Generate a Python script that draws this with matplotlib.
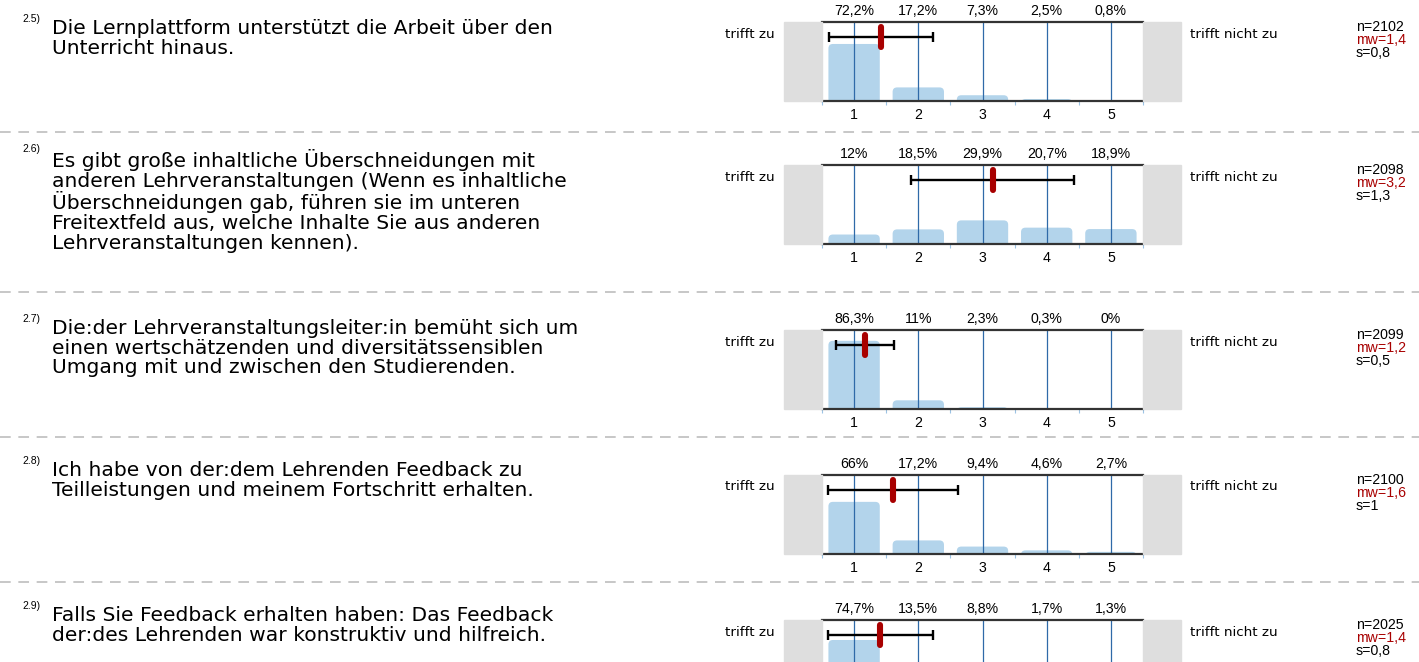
import matplotlib
matplotlib.use("Agg")
import matplotlib.pyplot as plt
from matplotlib.patches import Rectangle, FancyBboxPatch
from matplotlib.lines import Line2D

plt.rcParams['font.family'] = ['Liberation Sans', 'DejaVu Sans']

# ---------------- data ----------------
item_ids = ["2.5)", "2.6)", "2.7)", "2.8)", "2.9)"]
questions = [
    "Die Lernplattform unterstützt die Arbeit über den\nUnterricht hinaus.",
    "Es gibt große inhaltliche Überschneidungen mit\nanderen Lehrveranstaltungen (Wenn es inhaltliche\n"
    "Überschneidungen gab, führen sie im unteren\nFreitextfeld aus, welche Inhalte Sie aus anderen\n"
    "Lehrveranstaltungen kennen).",
    "Die:der Lehrveranstaltungsleiter:in bemüht sich um\neinen wertschätzenden und diversitätssensiblen\n"
    "Umgang mit und zwischen den Studierenden.",
    "Ich habe von der:dem Lehrenden Feedback zu\nTeilleistungen und meinem Fortschritt erhalten.",
    "Falls Sie Feedback erhalten haben: Das Feedback\nder:des Lehrenden war konstruktiv und hilfreich.",
]
categories = [1, 2, 3, 4, 5]
pct_25 = [72.2, 17.2, 7.3, 2.5, 0.8]
pct_26 = [12, 18.5, 29.9, 20.7, 18.9]
pct_27 = [86.3, 11, 2.3, 0.3, 0]
pct_28 = [66, 17.2, 9.4, 4.6, 2.7]
pct_29 = [74.7, 13.5, 8.8, 1.7, 1.3]
percentages = [pct_25, pct_26, pct_27, pct_28, pct_29]
n_values = [2102, 2098, 2099, 2100, 2025]
mw_values = [1.4, 3.2, 1.2, 1.6, 1.4]
s_values = [0.8, 1.3, 0.5, 1, 0.8]
mean_marker = [1.42, 3.16, 1.17, 1.61, 1.41]
sd_marker = [0.81, 1.27, 0.45, 1.01, 0.82]
left_label = "trifft zu"
right_label = "trifft nicht zu"

# ---------------- layout (pixels) ----------------
W, H = 1419, 662
fig = plt.figure(figsize=(W / 100, H / 100), dpi=100)

def fx(x):
    return x / W

def fy(y):
    return 1 - y / H

chart_top = [22, 165, 330, 475, 620]
chart_h = 79
text_y = [19, 149, 319, 461, 606]
separators = [132, 292, 437, 582]

ax_left, ax_right = 822, 1143
gray_w = 38

BAR = '#b3d4eb'
VLINE = '#2f6aa8'
RED = '#a80000'
MAIN_FONT = ['DejaVu Sans']
LABEL_FONT = ['DejaVu Sans']
TXT_FS = 14.6
NUM_FS = 10.2
LBL_FS = 9.7

def fmt(v):
    return f"{v:g}".replace('.', ',')

for i in range(5):
    top = chart_top[i]
    bottom = top + chart_h
    ax = fig.add_axes([fx(ax_left), fy(bottom), (ax_right - ax_left) / W, chart_h / H])
    ax.set_xlim(0.5, 5.5)
    ax.set_ylim(0, 100)
    bars = ax.bar(categories, percentages[i], width=0.8, color=BAR, zorder=1)
    # rounded top corners: replace each rectangle by a rounded box of the same geometry
    for rect in bars:
        rect.set_visible(False)
        rb = FancyBboxPatch((rect.get_x(), rect.get_y() - 8), rect.get_width(),
                            rect.get_height() + 8,
                            boxstyle="round,pad=0,rounding_size=0.07",
                            mutation_aspect=80, color=BAR, lw=0, zorder=1)
        ax.add_patch(rb)
    ax.vlines(categories, 0, 100, color=VLINE, lw=0.9, zorder=2)
    ax.errorbar([mean_marker[i]], [81], xerr=[sd_marker[i]], color='black', lw=1.7,
                capsize=3.6, capthick=1.7, zorder=3)
    ax.plot([mean_marker[i], mean_marker[i]], [68, 94], color=RED, lw=4.4,
            solid_capstyle='round', zorder=4, clip_on=False)
    for c, v in zip(categories, percentages[i]):
        ax.annotate(fmt(v) + '%', (c, 100), xytext=(0, 3), textcoords='offset points',
                    ha='center', va='bottom', fontsize=NUM_FS)
    for side in ['left', 'right']:
        ax.spines[side].set_visible(False)
    for side in ['top', 'bottom']:
        ax.spines[side].set_color('#333333')
        ax.spines[side].set_linewidth(1.6)
    ax.set_yticks([])
    ax.set_xticks(categories)
    if bottom + 20 < H:
        ax.set_xticklabels([str(c) for c in categories], fontsize=NUM_FS)
    else:
        ax.set_xticklabels([])
    ax.tick_params(axis='x', which='major', length=0, pad=5)
    ax.set_xticks([0.5, 1.5, 2.5, 3.5, 4.5, 5.5], minor=True)
    ax.tick_params(axis='x', which='minor', length=3, color='#9cc3e4', width=0.8)
    ax.patch.set_visible(False)

    # gray end boxes
    fig.patches.append(Rectangle((fx(ax_left - gray_w), fy(bottom)), gray_w / W, chart_h / H,
                                 transform=fig.transFigure, color='#dedede', zorder=0))
    fig.patches.append(Rectangle((fx(ax_right), fy(bottom)), gray_w / W, chart_h / H,
                                 transform=fig.transFigure, color='#dedede', zorder=0))

    fig.text(fx(775), fy(top + 12), left_label, ha='right', va='center',
             fontsize=LBL_FS, family=LABEL_FONT)
    fig.text(fx(1190), fy(top + 12), right_label, ha='left', va='center',
             fontsize=LBL_FS, family=LABEL_FONT)

    fig.text(fx(1356), fy(top + 5), f"n={n_values[i]}", ha='left', va='center', fontsize=NUM_FS)
    fig.text(fx(1356), fy(top + 18), f"mw={fmt(mw_values[i])}", ha='left', va='center',
             fontsize=NUM_FS, color=RED)
    fig.text(fx(1356), fy(top + 31), f"s={fmt(s_values[i])}", ha='left', va='center',
             fontsize=NUM_FS)

    fig.text(fx(22), fy(text_y[i] - 5), item_ids[i], ha='left', va='top', fontsize=7.5)
    fig.text(fx(52), fy(text_y[i]), questions[i], ha='left', va='top', fontsize=TXT_FS,
             linespacing=1.04, family=MAIN_FONT)

for y in separators:
    fig.lines.append(Line2D([0, 1], [fy(y), fy(y)], transform=fig.transFigure,
                            color='#b8b8b8', lw=1.1, linestyle=(0, (7, 5))))

fig.savefig('out.png', dpi=100)
